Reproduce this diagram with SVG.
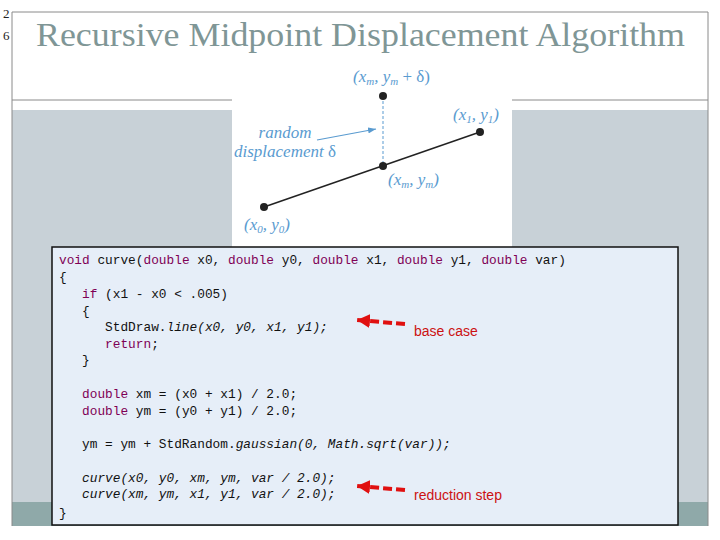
<svg xmlns="http://www.w3.org/2000/svg" width="720" height="540" viewBox="0 0 720 540">
<style>
.code{font-family:"Liberation Mono","DejaVu Sans Mono",monospace;font-size:12.8px;fill:#111;white-space:pre}
.kw{fill:#7f0055}
.it{font-style:italic}
.lbl{font-family:"Liberation Serif",serif;font-size:17px;fill:#5a9bd0;font-style:italic}
.red{font-family:"Liberation Sans",sans-serif;font-size:14px;fill:#cc1111}
.frame{stroke:#8a8a8a;stroke-width:1;fill:none}
</style>
<defs>
<marker id="ra" markerWidth="13" markerHeight="14" refX="13" refY="7" orient="auto" markerUnits="userSpaceOnUse"><path d="M0,0 L13,7 L0,14 Z" fill="#e01010"/></marker>
<marker id="ba" markerWidth="8" markerHeight="6" refX="8" refY="3" orient="auto" markerUnits="userSpaceOnUse"><path d="M0,0 L8,3 L0,6 Z" fill="#5a9bd0"/></marker>
</defs>
<rect width="720" height="540" fill="#fff"/>
<g id="slide">
<rect x="12" y="110" width="696" height="392" fill="#c8d1d7"/>
<rect x="12" y="502" width="696" height="24" fill="#8fa9a9"/>
<path class="frame" d="M12,12 H708 M12,12 V526 M708,12 V526 M12,100 H232 M512,100 H708"/>
<text x="3" y="18" font-family="Liberation Serif,serif" font-size="13" fill="#222">2</text>
<text x="3" y="40" font-family="Liberation Serif,serif" font-size="13" fill="#222">6</text>
<text x="36" y="46" font-family="Liberation Serif,serif" font-size="34" fill="#7f9696" textLength="649" lengthAdjust="spacingAndGlyphs">Recursive Midpoint Displacement Algorithm</text>
</g>
<g id="figure">
<rect x="232" y="60" width="280" height="188" fill="#fff"/>
<line x1="264" y1="207" x2="480" y2="132" stroke="#222" stroke-width="1.5"/>
<line x1="383" y1="96" x2="383" y2="166" stroke="#5a9bd0" stroke-width="1" stroke-dasharray="3,2"/>
<line x1="317" y1="140" x2="376" y2="129" stroke="#5a9bd0" stroke-width="1.2" marker-end="url(#ba)"/>
<circle cx="383" cy="96" r="4" fill="#222"/>
<circle cx="383" cy="166" r="4" fill="#222"/>
<circle cx="480" cy="132" r="4" fill="#222"/>
<circle cx="264" cy="207" r="4" fill="#222"/>
<text class="lbl" x="353" y="82">(x<tspan font-size="11" dy="3">m</tspan><tspan dy="-3">, y</tspan><tspan font-size="11" dy="3">m</tspan><tspan dy="-3" font-style="normal"> + δ)</tspan></text>
<text class="lbl" x="453" y="120">(x<tspan font-size="11" dy="3">1</tspan><tspan dy="-3">, y</tspan><tspan font-size="11" dy="3">1</tspan><tspan dy="-3">)</tspan></text>
<text class="lbl" x="388" y="185">(x<tspan font-size="11" dy="3">m</tspan><tspan dy="-3">, y</tspan><tspan font-size="11" dy="3">m</tspan><tspan dy="-3">)</tspan></text>
<text class="lbl" x="244" y="230">(x<tspan font-size="11" dy="3">0</tspan><tspan dy="-3">, y</tspan><tspan font-size="11" dy="3">0</tspan><tspan dy="-3">)</tspan></text>
<text class="lbl" x="285" y="138" text-anchor="middle" font-size="14">random</text>
<text class="lbl" x="285" y="157" text-anchor="middle" font-size="14">displacement <tspan font-style="normal">δ</tspan></text>
</g>
<g id="code">
<rect x="52" y="247" width="626" height="278" fill="#e6eef8" stroke="#111" stroke-width="1.5"/>
<text class="code" x="59" y="264"><tspan class="kw">void</tspan> curve(<tspan class="kw">double</tspan> x0, <tspan class="kw">double</tspan> y0, <tspan class="kw">double</tspan> x1, <tspan class="kw">double</tspan> y1, <tspan class="kw">double</tspan> var)</text>
<text class="code" x="59" y="281">{</text>
<text class="code" x="59" y="298">   <tspan class="kw">if</tspan> (x1 - x0 &lt; .005)</text>
<text class="code" x="59" y="315">   {</text>
<text class="code" x="59" y="331">      StdDraw.<tspan class="it">line(x0, y0, x1, y1);</tspan></text>
<text class="code" x="59" y="348">      <tspan class="kw">return</tspan>;</text>
<text class="code" x="59" y="364">   }</text>
<text class="code" x="59" y="398">   <tspan class="kw">double</tspan> xm = (x0 + x1) / 2.0;</text>
<text class="code" x="59" y="415">   <tspan class="kw">double</tspan> ym = (y0 + y1) / 2.0;</text>
<text class="code" x="59" y="448">   ym = ym + StdRandom.<tspan class="it">gaussian(0, Math.sqrt(var));</tspan></text>
<text class="code it" x="59" y="482">   curve(x0, y0, xm, ym, var / 2.0);</text>
<text class="code it" x="59" y="498">   curve(xm, ym, x1, y1, var / 2.0);</text>
<text class="code" x="59" y="517">}</text>
</g>
<g id="connectors">
<line x1="405" y1="324" x2="357" y2="320" stroke="#e01010" stroke-width="4" stroke-dasharray="9,4" marker-end="url(#ra)"/>
<line x1="405" y1="490" x2="357" y2="486" stroke="#e01010" stroke-width="4" stroke-dasharray="9,4" marker-end="url(#ra)"/>
</g>
<g id="notes">
<text class="red" x="414" y="336">base case</text>
<text class="red" x="414" y="500">reduction step</text>
</g>
</svg>
